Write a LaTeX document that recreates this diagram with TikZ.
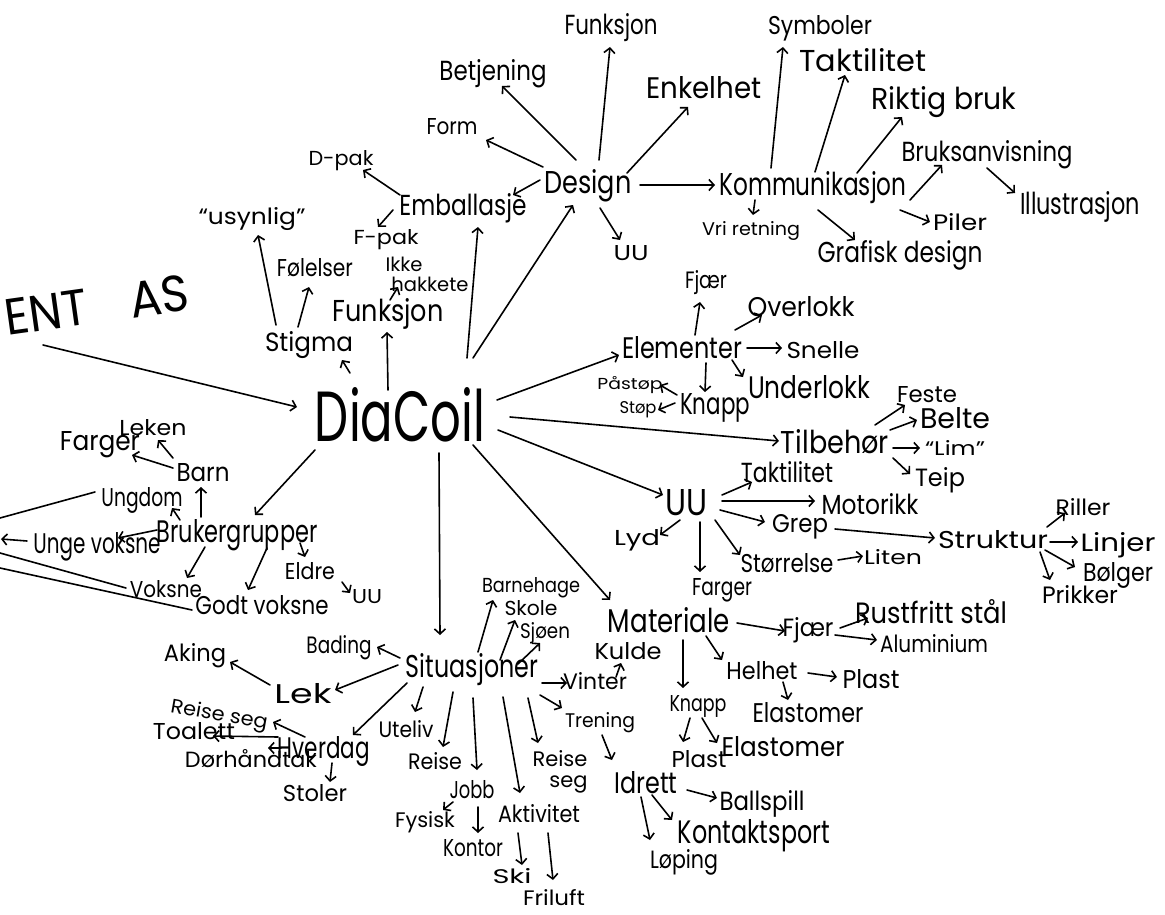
\documentclass[tikz,border=0pt]{standalone}
\usepackage{fontspec}
\setmainfont{Poppins}
\usetikzlibrary{arrows.meta,calc}
\newcommand\tx[2]{\resizebox{#1pt}{!}{#2}}
\newcommand\txh[3]{\resizebox{#1pt}{#2pt}{#3}}
\newcommand\arw[4]{\draw[conn,tip] ($(#1)+(#2)$) -- ($(#3)+(#4)$);}
\begin{document}
\begin{tikzpicture}[x=1pt,y=-1pt,
  conn/.style={line width=1.6pt,line cap=round,line join=round},
  tip/.style={-{Straight Barb[length=5pt,width=11pt,line width=1.6pt]}},
  lbl/.style={inner sep=0pt}]
\useasboundingbox (0,0) rectangle (1165,915);
% ---------- nodes ----------
\node[lbl,rotate=8] (ent) at (97,305) {\txh{185}{36}{ENT\hspace{0.9em}AS}};
\node[lbl] (dia) at (400,415) {\txh{170}{54}{DiaCoil}};
% design branch
\node[lbl] (design) at (588,186) {\txh{87}{24}{Design}};
\node[lbl] (fun1) at (611,28) {\txh{93}{21}{Funksjon}};
\node[lbl] (betj) at (493,74) {\txh{107}{21}{Betjening}};
\node[lbl] (form) at (452,127) {\txh{51}{16}{Form}};
\node[lbl] (enk) at (704,88) {\txh{115}{22}{Enkelhet}};
\node[lbl] (uu1) at (631,253) {\txh{35}{15}{UU}};
\node[lbl] (emb) at (463,208) {\txh{127}{22}{Emballasje}};
\node[lbl] (dpak) at (341,161) {\txh{65}{15}{D-pak}};
\node[lbl] (fpak) at (386,240) {\txh{65}{15}{F-pak}};
\node[lbl] (usyn) at (252,219) {\txh{107}{17}{“usynlig”}};
\node[lbl] (fol) at (315,268) {\txh{76}{18}{Følelser}};
\node[lbl] (ikke) at (427,277) {\tx{83}{\renewcommand\arraystretch{0.8}\begin{tabular}{@{}l@{}}Ikke\\\hspace{3pt}hakkete\end{tabular}}};
\node[lbl] (fun2) at (388,314) {\txh{111}{23}{Funksjon}};
\node[lbl] (stig) at (309,345) {\txh{88}{20}{Stigma}};
% kommunikasjon
\node[lbl] (komm) at (813,188) {\txh{187}{24}{Kommunikasjon}};
\node[lbl] (symb) at (820,28) {\txh{104}{19}{Symboler}};
\node[lbl] (takt1) at (863,60) {\txh{127}{23}{Taktilitet}};
\node[lbl] (rikt) at (944,102) {\txh{145}{23}{Riktig bruk}};
\node[lbl] (bruks) at (987,155) {\txh{171}{21}{Bruksanvisning}};
\node[lbl] (illu) at (1080,207) {\txh{120}{23}{Illustrasjon}};
\node[lbl] (piler) at (960,222) {\txh{54}{17}{Piler}};
\node[lbl] (graf) at (900,255) {\txh{165}{22}{Grafisk design}};
\node[lbl] (vri) at (751,231) {\txh{98}{14}{Vri retning}};
% elementer
\node[lbl] (elem) at (682,348) {\txh{120}{22}{Elementer}};
\node[lbl] (fjaer1) at (706,283) {\txh{42}{18}{Fjær}};
\node[lbl] (over) at (801,307) {\txh{107}{20}{Overlokk}};
\node[lbl] (snelle) at (823,350) {\txh{73}{17}{Snelle}};
\node[lbl] (under) at (809,387) {\txh{122}{23}{Underlokk}};
\node[lbl] (knapp1) at (715,408) {\txh{70}{21}{Knapp}};
\node[lbl] (pastop) at (630,385) {\txh{65}{13}{Påstøp}};
\node[lbl] (stop) at (638,410) {\txh{37}{12}{Støp}};
% tilbehor
\node[lbl] (tilb) at (835,442) {\txh{108}{24}{Tilbehør}};
\node[lbl] (feste) at (927,395) {\txh{60}{16}{Feste}};
\node[lbl] (belte) at (955,418) {\txh{70}{21}{Belte}};
\node[lbl] (lim) at (955,448) {\txh{60}{15}{“Lim”}};
\node[lbl] (teip) at (940,480) {\txh{50}{19}{Teip}};
% UU
\node[lbl] (uu2) at (686,503) {\txh{42}{26}{UU}};
\node[lbl] (takt2) at (787,472) {\txh{92}{21}{Taktilitet}};
\node[lbl] (motor) at (870,504) {\txh{97}{21}{Motorikk}};
\node[lbl] (grep) at (800,527) {\txh{56}{18}{Grep}};
\node[lbl] (strukt) at (993,540) {\txh{110}{18}{Struktur}};
\node[lbl] (riller) at (1083,507) {\txh{55}{17}{Riller}};
\node[lbl] (linjer) at (1118,545) {\txh{75}{19}{Linjer}};
\node[lbl] (bolger) at (1118,575) {\txh{70}{19}{Bølger}};
\node[lbl] (prikk) at (1080,595) {\txh{76}{18}{Prikker}};
\node[lbl] (storr) at (787,563) {\txh{93}{19}{Størrelse}};
\node[lbl] (liten) at (893,557) {\txh{58}{15}{Liten}};
\node[lbl] (farger2) at (722,590) {\txh{60}{17}{Farger}};
\node[lbl] (lyd) at (637,540) {\txh{46}{16}{Lyd}};
% materiale
\node[lbl] (mat) at (669,620) {\txh{122}{25}{Materiale}};
\node[lbl] (fjaer2) at (808,630) {\txh{51}{19}{Fjær}};
\node[lbl] (rust) at (931,612) {\txh{152}{24}{Rustfritt stål}};
\node[lbl] (alu) at (934,644) {\txh{108}{18}{Aluminium}};
\node[lbl] (helhet) at (762,671) {\txh{71}{18}{Helhet}};
\node[lbl] (plast1) at (871,679) {\txh{57}{19}{Plast}};
\node[lbl] (elast1) at (808,713) {\txh{111}{20}{Elastomer}};
\node[lbl] (knapp2) at (698,706) {\txh{57}{16}{Knapp}};
\node[lbl] (plast2) at (699,759) {\txh{55}{17}{Plast}};
\node[lbl] (elast2) at (783,747) {\txh{123}{20}{Elastomer}};
% situasjoner
\node[lbl] (situ) at (472,670) {\txh{132}{24}{Situasjoner}};
\node[lbl] (barnh) at (531,588) {\txh{98}{15}{Barnehage}};
\node[lbl] (skole) at (531,608) {\txh{53}{15}{Skole}};
\node[lbl] (sjoen) at (545,633) {\txh{50}{16}{Sjøen}};
\node[lbl] (bading) at (339,648) {\txh{65}{18}{Bading}};
\node[lbl] (aking) at (195,656) {\txh{62}{18}{Aking}};
\node[lbl] (lek) at (303,694) {\txh{57}{20}{Lek}};
\node[lbl,rotate=-10] (reise1) at (219,716) {\txh{98}{15}{Reise seg}};
\node[lbl] (toal) at (194,731) {\txh{82}{17}{Toalett}};
\node[lbl] (dorh) at (251,759) {\txh{132}{18}{Dørhåndtak}};
\node[lbl] (hverd) at (324,752) {\txh{92}{22}{Hverdag}};
\node[lbl] (stoler) at (315,793) {\txh{64}{17}{Stoler}};
\node[lbl] (uteliv) at (406,729) {\txh{55}{17}{Uteliv}};
\node[lbl] (reise2) at (435,761) {\txh{54}{17}{Reise}};
\node[lbl] (jobb) at (472,790) {\txh{45}{18}{Jobb}};
\node[lbl] (fysisk) at (425,822) {\txh{60}{16}{Fysisk}};
\node[lbl] (kontor) at (473,848) {\txh{60}{17}{Kontor}};
\node[lbl] (aktiv) at (539,814) {\txh{82}{18}{Aktivitet}};
\node[lbl] (ski) at (512,876) {\txh{39}{15}{Ski}};
\node[lbl] (friluft) at (554,898) {\txh{62}{16}{Friluft}};
\node[lbl] (reise3) at (560,772) {\tx{55}{\renewcommand\arraystretch{0.8}\begin{tabular}{@{}l@{}}Reise\\\hspace{8pt}seg\end{tabular}}};
\node[lbl] (vinter) at (595,681) {\txh{64}{17}{Vinter}};
\node[lbl] (kulde) at (628,651) {\txh{67}{17}{Kulde}};
\node[lbl] (trening) at (600,723) {\txh{70}{15}{Trening}};
\node[lbl] (idrett) at (646,783) {\txh{63}{22}{Idrett}};
\node[lbl] (ball) at (762,804) {\txh{85}{20}{Ballspill}};
\node[lbl] (kontakt) at (754,836) {\txh{152}{24}{Kontaktsport}};
\node[lbl] (loping) at (684,862) {\txh{68}{19}{Løping}};
% brukergrupper
\node[lbl] (bruk) at (237,535) {\txh{161}{23}{Brukergrupper}};
\node[lbl] (barn) at (203,473) {\txh{53}{18}{Barn}};
\node[lbl] (leken) at (153,428) {\txh{67}{16}{Leken}};
\node[lbl] (farger1) at (100,445) {\txh{80}{19}{Farger}};
\node[lbl] (ungdom) at (142,500) {\txh{81}{19}{Ungdom}};
\node[lbl] (ungev) at (97,547) {\txh{127}{21}{Unge voksne}};
\node[lbl] (voksne) at (166,589) {\txh{72}{17}{Voksne}};
\node[lbl] (godt) at (262,605) {\txh{133}{19}{Godt voksne}};
\node[lbl] (eldre) at (310,571) {\txh{50}{17}{Eldre}};
\node[lbl] (uu3) at (367,597) {\txh{30}{14}{UU}};
\coordinate (L1) at (0,518);
\coordinate (L2) at (1,539);
\coordinate (L3) at (0,553);
\coordinate (L4) at (0,568);
% ---------- connectors ----------
\arw{ent}{-54,40}{dia}{-103,-8}
\arw{dia}{67,-57}{emb}{15,19}
\arw{dia}{73,-57}{design}{-15,19}
\arw{dia}{-12,-25}{fun2}{-1,18}
\arw{dia}{-50,-42}{stig}{33,15}
\arw{dia}{97,-15}{elem}{-63,7}
\arw{dia}{110,2}{tilb}{-56,-1}
\arw{dia}{98,15}{uu2}{-23,-8}
\arw{dia}{73,30}{mat}{-59,-20}
\arw{dia}{39,38}{situ}{-32,-35}
\arw{dia}{-85,35}{bruk}{18,-20}
% design
\arw{design}{11,-26}{fun1}{-1,19}
\arw{design}{-12,-26}{betj}{9,12}
\arw{design}{-45,-19}{form}{34,13}
\arw{design}{39,-13}{enk}{-16,19}
\arw{design}{-48,-6}{emb}{50,-13}
\arw{design}{12,22}{uu1}{-11,-13}
\arw{design}{52,-1}{komm}{-98,-3}
\arw{emb}{-63,-13}{dpak}{22,9}
\arw{emb}{-70,2}{fpak}{-8,-13}
\arw{stig}{-33,-20}{usyn}{6,16}
\arw{stig}{-11,-18}{fol}{-6,19}
\arw{fun2}{2,-14}{ikke}{-29,10}
% kommunikasjon
\arw{komm}{-42,-20}{symb}{-37,19}
\arw{komm}{2,-16}{takt1}{-18,15}
\arw{komm}{44,-15}{rikt}{-42,15}
\arw{komm}{97,12}{bruks}{-45,10}
\arw{komm}{87,22}{piler}{-30,0}
\arw{komm}{5,22}{graf}{-45,-15}
\arw{komm}{-58,12}{vri}{2,-16}
\arw{bruks}{0,13}{illu}{-65,-14}
% elementer
\arw{elem}{13,-13}{fjaer1}{-6,19}
\arw{elem}{53,-18}{over}{-39,8}
\arw{elem}{65,0}{snelle}{-41,-2}
\arw{elem}{50,12}{under}{-66,-10}
\arw{elem}{24,15}{knapp1}{-10,-16}
\arw{knapp1}{-38,-13}{pastop}{30,0}
\arw{knapp1}{-40,-5}{stop}{20,0}
% tilbehor
\arw{tilb}{40,-17}{feste}{-22,10}
\arw{tilb}{55,-12}{belte}{-38,2}
\arw{tilb}{58,6}{lim}{-35,0}
\arw{tilb}{58,16}{teip}{-30,-6}
% UU
\arw{uu2}{36,-8}{takt2}{-35,10}
\arw{uu2}{36,-2}{motor}{-55,-3}
\arw{uu2}{34,7}{grep}{-35,-5}
\arw{grep}{35,2}{strukt}{-58,-2}
\arw{uu2}{29,17}{storr}{-47,-8}
\arw{uu2}{14,19}{farger2}{-22,-18}
\arw{uu2}{-6,17}{lyd}{23,-5}
\arw{storr}{51,-3}{liten}{-30,-1}
\arw{strukt}{54,-13}{riller}{-18,6}
\arw{strukt}{57,2}{linjer}{-40,-3}
\arw{strukt}{52,10}{bolger}{-43,-8}
\arw{strukt}{47,12}{prikk}{-30,-15}
% materiale
\arw{mat}{68,3}{fjaer2}{-23,1}
\arw{fjaer2}{32,-2}{rust}{-63,6}
\arw{fjaer2}{27,5}{alu}{-57,-4}
\arw{mat}{37,16}{helhet}{-40,-11}
\arw{helhet}{46,2}{plast1}{-34,-2}
\arw{helhet}{21,11}{elast1}{-20,-13}
\arw{mat}{14,20}{knapp2}{-15,-18}
\arw{knapp2}{-8,12}{plast2}{-16,-17}
\arw{knapp2}{4,12}{elast2}{-66,-4}
% situasjoner
\arw{situ}{6,-18}{barnh}{-38,12}
\arw{situ}{28,-10}{skole}{-16,12}
\arw{situ}{46,-6}{sjoen}{-5,10}
\arw{situ}{-72,-12}{bading}{38,-1}
\arw{situ}{-74,-5}{lek}{32,-4}
\arw{lek}{-33,-9}{aking}{35,6}
\arw{situ}{-65,13}{hverd}{29,-17}
\arw{situ}{-49,17}{uteliv}{9,-17}
\arw{situ}{-19,22}{reise2}{8,-14}
\arw{situ}{1,28}{jobb}{5,-20}
\arw{situ}{31,27}{aktiv}{-19,-21}
\arw{situ}{56,28}{reise3}{-22,-29}
\arw{situ}{70,13}{vinter}{-28,2}
\arw{situ}{68,25}{trening}{-38,-15}
\arw{vinter}{21,-4}{kulde}{-7,12}
\arw{trening}{2,12}{idrett}{-34,-23}
\arw{idrett}{41,7}{ball}{-45,-6}
\arw{idrett}{6,12}{kontakt}{-82,-16}
\arw{idrett}{-5,14}{loping}{-34,-22}
\arw{hverd}{-19,-15}{reise1}{54,6}
\arw{hverd}{-46,-15}{toal}{19,5}
\arw{hverd}{-43,-4}{dorh}{17,-11}
\arw{hverd}{8,11}{stoler}{15,-11}
\arw{jobb}{-19,12}{fysisk}{18,-12}
\arw{jobb}{6,17}{kontor}{5,-15}
\arw{aktiv}{-21,19}{ski}{10,-11}
\arw{aktiv}{9,19}{friluft}{-1,-18}
% brukergrupper
\arw{bruk}{-36,-18}{barn}{-2,14}
\arw{barn}{-30,-15}{leken}{5,12}
\arw{barn}{-30,-5}{farger1}{32,10}
\arw{bruk}{-57,-15}{ungdom}{30,8}
\arw{bruk}{-80,-5}{ungev}{21,-9}
\arw{bruk}{-32,12}{voksne}{21,-11}
\arw{bruk}{30,13}{godt}{-14,-15}
\arw{bruk}{63,8}{eldre}{-5,-14}
\arw{eldre}{32,11}{uu3}{-17,-4}
\draw[conn] ($(ungdom)+(-47,-8)$) -- (L1);
\draw[conn,tip] ($(ungev)+(-70,-6)$) -- (L2);
\draw[conn] ($(voksne)+(-40,-1)$) -- (L3);
\draw[conn] ($(godt)+(-70,5)$) -- (L4);
\end{tikzpicture}
\end{document}
